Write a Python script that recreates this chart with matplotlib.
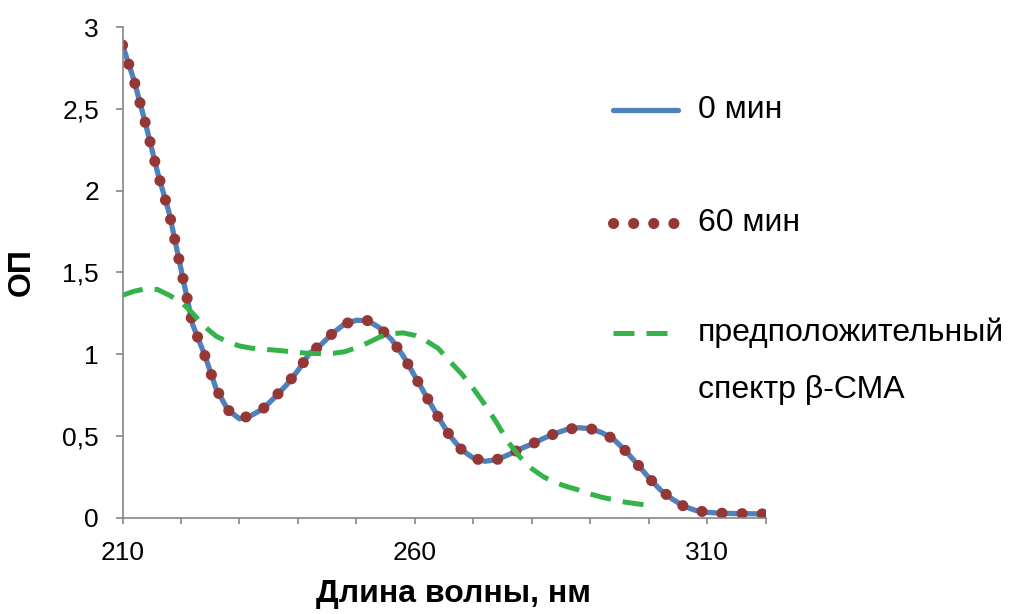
import matplotlib
matplotlib.use('Agg')
import matplotlib.pyplot as plt
from matplotlib.lines import Line2D
from matplotlib.ticker import FuncFormatter, MultipleLocator

# Длина волны, нм
wl = [210, 212, 214, 216, 218, 220, 222, 224, 226, 228,
      230, 232, 234, 236, 238, 240, 242, 244, 246, 248,
      250, 252, 254, 256, 258, 260, 262, 264, 266, 268,
      270, 272, 274, 276, 278, 280, 282, 284, 286, 288,
      290, 292, 294, 296, 298, 300, 302, 304, 306, 308,
      310, 312, 314, 316, 318, 320]

# 0 мин
od_0 = [2.89, 2.67, 2.40, 2.11, 1.86, 1.52, 1.18, 1.00, 0.79, 0.66,
        0.605, 0.625, 0.665, 0.735, 0.81, 0.90, 1.005, 1.06, 1.13, 1.185,
        1.207, 1.205, 1.16, 1.09, 0.99, 0.865, 0.74, 0.615, 0.50, 0.415,
        0.365, 0.345, 0.355, 0.385, 0.42, 0.45, 0.485, 0.515, 0.54, 0.55,
        0.545, 0.52, 0.48, 0.41, 0.33, 0.245, 0.17, 0.115, 0.07, 0.045,
        0.033, 0.028, 0.026, 0.025, 0.024, 0.023]

# 60 мин (совпадает с 0 мин)
od_60 = [2.89, 2.67, 2.40, 2.11, 1.86, 1.52, 1.18, 1.00, 0.79, 0.66,
         0.605, 0.625, 0.665, 0.735, 0.81, 0.90, 1.005, 1.06, 1.13, 1.185,
         1.207, 1.205, 1.16, 1.09, 0.99, 0.865, 0.74, 0.615, 0.50, 0.415,
         0.365, 0.345, 0.355, 0.385, 0.42, 0.45, 0.485, 0.515, 0.54, 0.55,
         0.545, 0.52, 0.48, 0.41, 0.33, 0.245, 0.17, 0.115, 0.07, 0.045,
         0.033, 0.028, 0.026, 0.025, 0.024, 0.023]

# предположительный спектр β-СМА (до 300 нм)
wl_b = wl[:46]
od_b = [1.36, 1.385, 1.40, 1.395, 1.36, 1.32, 1.25, 1.17, 1.11, 1.075,
        1.05, 1.037, 1.03, 1.025, 1.018, 1.01, 1.005, 1.003, 1.005, 1.015,
        1.04, 1.07, 1.105, 1.125, 1.13, 1.115, 1.08, 1.035, 0.955, 0.88,
        0.79, 0.69, 0.58, 0.46, 0.37, 0.30, 0.25, 0.215, 0.19, 0.17,
        0.145, 0.125, 0.11, 0.095, 0.085, 0.075]

labels = ['0 мин', '60 мин', 'предположительный\nспектр β-СМА']

BLUE = '#4F81BD'
RED = '#953735'
GREEN = '#33B34A'
GRAY = '#868686'

plt.rcParams['font.family'] = ['Liberation Sans', 'DejaVu Sans']

fig = plt.figure(figsize=(10.16, 6.14), dpi=100)
ax = fig.add_axes([0.1206, 0.1568, 0.633, 0.7992])

styles = [
    dict(color=BLUE, lw=3.8, solid_capstyle='round'),
    dict(color=RED, lw=8.0, linestyle=(0, (0.01, 1.8)), dash_capstyle='round'),
    dict(color=GREEN, lw=3.6, linestyle=(0, (4.2, 2.4)), dash_capstyle='butt'),
]

ax.plot(wl, od_0, **styles[0])
ax.plot(wl, od_60, **styles[1])
ax.plot(wl_b, od_b, **styles[2])

ax.set_xlim(210, 320)
ax.set_ylim(0, 3)
ax.set_xticks([210, 260, 310])
ax.xaxis.set_minor_locator(MultipleLocator(10))
ax.yaxis.set_major_locator(MultipleLocator(0.5))
ax.yaxis.set_major_formatter(FuncFormatter(lambda v, p: '{:g}'.format(v).replace('.', ',')))

for side in ['top', 'right']:
    ax.spines[side].set_visible(False)
for side in ['left', 'bottom']:
    ax.spines[side].set_color(GRAY)
    ax.spines[side].set_linewidth(1.2)

ax.tick_params(axis='x', which='both', length=4, width=1.2, color=GRAY,
               labelsize=19, pad=13)
ax.tick_params(axis='y', length=5, width=1.2, color=GRAY, labelsize=19, pad=12)

ax.set_xlabel('Длина волны, нм', fontsize=23, fontweight='bold')
ax.xaxis.set_label_coords(0.515, -0.125)
ax.set_ylabel('ОП', fontsize=23, fontweight='bold', labelpad=18)

# легенда справа
W, H = 1016, 614
rows = [(110, 0), (223, 1), (333, 2)]
for y, i in rows:
    yf = 1 - y / H
    fig.add_artist(Line2D([613 / W, 678 / W], [yf, yf], transform=fig.transFigure,
                          **styles[i]))
    fig.text(698 / W, yf, labels[i].split('\n')[0], fontsize=23, va='center', ha='left')
fig.text(698 / W, 1 - 390 / H, labels[2].split('\n')[1], fontsize=23, va='center', ha='left')

fig.savefig('out.png', dpi=100)
